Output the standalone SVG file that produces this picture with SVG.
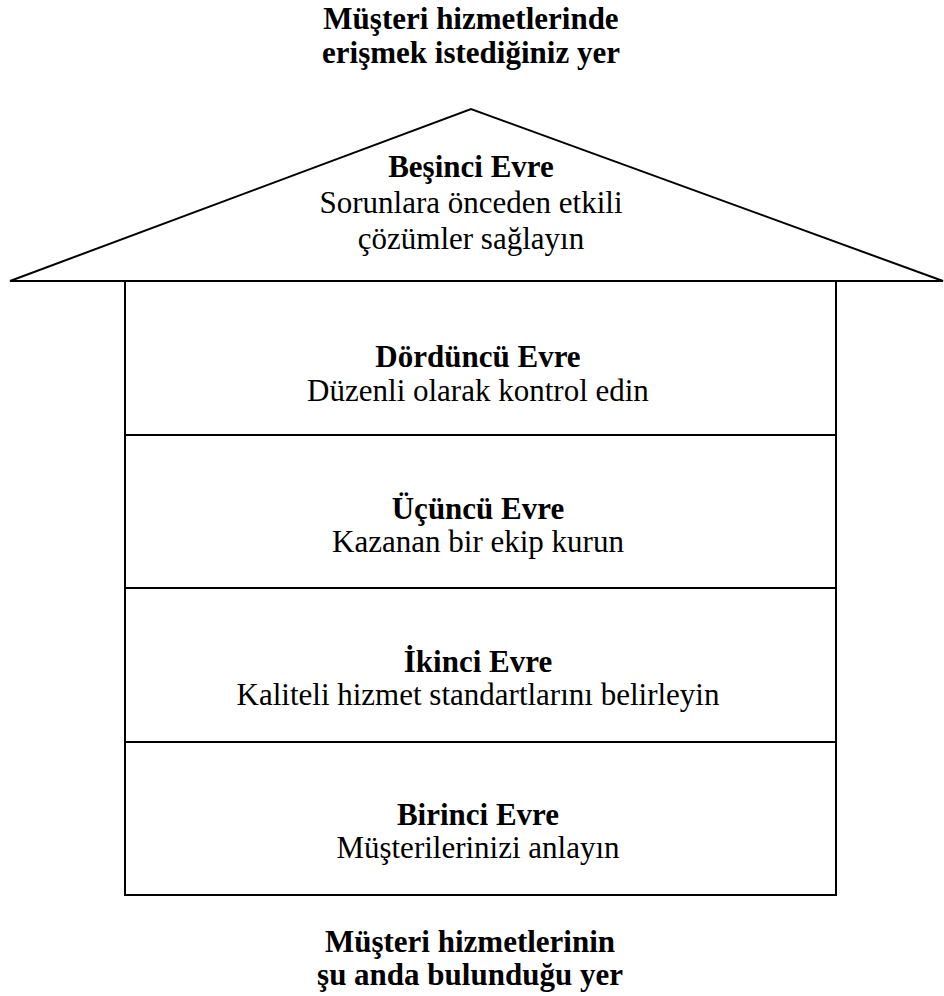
<svg xmlns="http://www.w3.org/2000/svg" width="944" height="996" viewBox="0 0 944 996">
  <style>
    text { font-family: "Liberation Serif", "Times New Roman", serif; font-size: 31px; fill: #000; text-anchor: middle; }
    .b { font-weight: bold; }
    .line { stroke: #000; stroke-width: 2; fill: none; }
  </style>
  <rect width="944" height="996" fill="#fff"/>

  <!-- top caption -->
  <g id="goal">
    <text class="b" x="471" y="29">Müşteri hizmetlerinde</text>
    <text class="b" x="471" y="63">erişmek istediğiniz yer</text>
  </g>

  <!-- house outline -->
  <g id="frame">
    <polyline class="line" points="10,281 471,109 943,281 10,281"/>
    <rect class="line" x="125" y="281" width="711" height="614"/>
    <line class="line" x1="125" y1="435" x2="836" y2="435"/>
    <line class="line" x1="125" y1="588" x2="836" y2="588"/>
    <line class="line" x1="125" y1="742" x2="836" y2="742"/>
  </g>

  <g id="phase5">
    <text class="b" x="471" y="177">Beşinci Evre</text>
    <text x="471" y="213">Sorunlara önceden etkili</text>
    <text x="471" y="249">çözümler sağlayın</text>
  </g>
  <g id="phase4">
    <text class="b" x="478" y="367">Dördüncü Evre</text>
    <text x="478" y="401">Düzenli olarak kontrol edin</text>
  </g>
  <g id="phase3">
    <text class="b" x="478" y="519">Üçüncü Evre</text>
    <text x="478" y="552">Kazanan bir ekip kurun</text>
  </g>
  <g id="phase2">
    <text class="b" x="478" y="672">İkinci Evre</text>
    <text x="478" y="705">Kaliteli hizmet standartlarını belirleyin</text>
  </g>
  <g id="phase1">
    <text class="b" x="478" y="825">Birinci Evre</text>
    <text x="478" y="858">Müşterilerinizi anlayın</text>
  </g>

  <!-- bottom caption -->
  <g id="start">
    <text class="b" x="470" y="952">Müşteri hizmetlerinin</text>
    <text class="b" x="470" y="985">şu anda bulunduğu yer</text>
  </g>
</svg>
